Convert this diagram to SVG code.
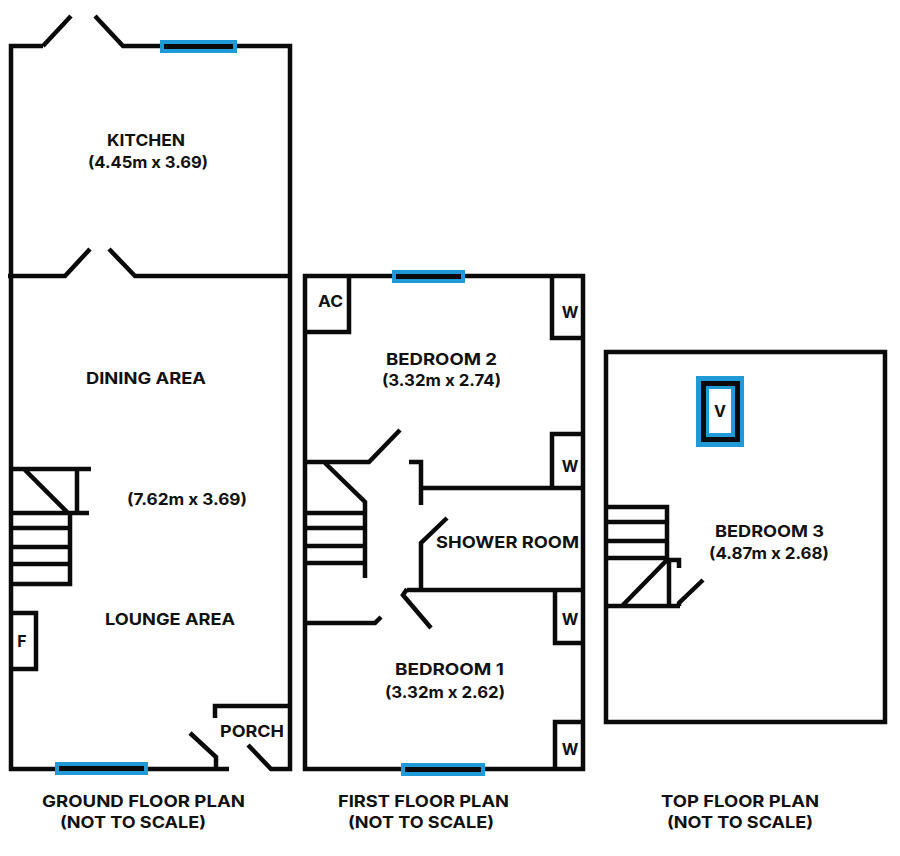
<svg xmlns="http://www.w3.org/2000/svg" width="900" height="856" viewBox="0 0 900 856">
<style>
.w{fill:none;stroke:#0a0a0a;stroke-width:4.5;stroke-linejoin:miter}
.wb{fill:#0a0a0a;stroke:#1f9ad6;stroke-width:4}
text{font-family:"Inter","Open Sans",sans-serif;font-weight:700;font-size:16px;fill:#111;text-anchor:middle}
</style>
<rect width="900" height="856" fill="#fff"/>
<g id="connectors">
<path class="w" d="M43 46H11V276M43 46L71 16M95 16L123 46H290V769H271L248 745"/>
<path class="w" d="M8 276H65L90 249M109 249L135 276H290"/>
<path class="w" d="M11 276V769H229"/>
<path class="w" d="M190 733L216 757V769"/>
<path class="w" d="M215 718V706H290"/>
<path class="w" d="M11 469H91M77 469V513M11 513H89M25 470L68 513M70 513V584H11M11 528H70M11 547H70M11 564H70"/>
<path class="w" d="M11 613H36V669H11"/>
<path class="w" d="M305 276H583V769H305Z"/>
<path class="w" d="M305 332H349V276"/>
<path class="w" d="M552 276V338H583"/>
<path class="w" d="M583 434H552V488"/>
<path class="w" d="M409 462H421V505M421 488H583"/>
<path class="w" d="M305 462H369L400 430"/>
<path class="w" d="M325 463L365 502V578M305 513H365M305 528H365M305 546H365M305 563H365"/>
<path class="w" d="M447 518L421 543V590M407 590H583M555 590V643H583"/>
<path class="w" d="M407 589L403 595L431 628"/>
<path class="w" d="M305 623H375L381 617"/>
<path class="w" d="M583 722H555V769"/>
<path class="w" d="M606 352H885V722H606Z"/>
<path class="w" d="M606 507H667V561M606 522H667M606 541H667M606 558H667"/>
<path class="w" d="M606 606H680M622 606L667 560H679V568M669 560V606M679 606V603L703 580"/>
</g>
<g id="window-kitchen"><rect class="wb" x="162" y="42" width="73" height="9"/></g>
<g id="window-lounge"><rect class="wb" x="57" y="764" width="89" height="9"/></g>
<g id="window-bed2"><rect class="wb" x="394" y="272" width="69" height="9"/></g>
<g id="window-bed1"><rect class="wb" x="403" y="765" width="80" height="9"/></g>
<g id="velux">
<rect x="696" y="376" width="48" height="71" fill="#1f9ad6"/>
<rect x="703.500" y="383.500" width="34" height="56" fill="none" stroke="#0a0a0a" stroke-width="5"/>
<rect x="709" y="389" width="22" height="44" fill="#fff"/>
<text x="720" y="417">V</text>
</g>
<g id="kitchen"><text x="146" y="146" textLength="78" lengthAdjust="spacingAndGlyphs">KITCHEN</text><text x="148" y="168" textLength="120" lengthAdjust="spacingAndGlyphs">(4.45m x 3.69)</text></g>
<g id="dining"><text x="146" y="384" textLength="120" lengthAdjust="spacingAndGlyphs">DINING AREA</text></g>
<g id="dim"><text x="187" y="505" textLength="120" lengthAdjust="spacingAndGlyphs">(7.62m x 3.69)</text></g>
<g id="lounge"><text x="170" y="625" textLength="130" lengthAdjust="spacingAndGlyphs">LOUNGE AREA</text></g>
<g id="fridge"><text x="22" y="647">F</text></g>
<g id="porch"><text x="252" y="737" textLength="64" lengthAdjust="spacingAndGlyphs">PORCH</text></g>
<g id="ac"><text x="330.500" y="307" textLength="25" lengthAdjust="spacingAndGlyphs">AC</text></g>
<g id="w1"><text x="570" y="318">W</text></g>
<g id="w2"><text x="570" y="472">W</text></g>
<g id="w3"><text x="570" y="625">W</text></g>
<g id="w4"><text x="570" y="755">W</text></g>
<g id="bedroom2"><text x="441.500" y="365" textLength="111" lengthAdjust="spacingAndGlyphs">BEDROOM 2</text><text x="441.500" y="386" textLength="119" lengthAdjust="spacingAndGlyphs">(3.32m x 2.74)</text></g>
<g id="shower"><text x="507.500" y="548" textLength="143" lengthAdjust="spacingAndGlyphs">SHOWER ROOM</text></g>
<g id="bedroom1"><text x="449.500" y="675" textLength="109" lengthAdjust="spacingAndGlyphs">BEDROOM 1</text><text x="445" y="698" textLength="120" lengthAdjust="spacingAndGlyphs">(3.32m x 2.62)</text></g>
<g id="bedroom3"><text x="769.500" y="537" textLength="109" lengthAdjust="spacingAndGlyphs">BEDROOM 3</text><text x="769" y="559" textLength="120" lengthAdjust="spacingAndGlyphs">(4.87m x 2.68)</text></g>
<g id="ground-title"><text x="143.500" y="807" textLength="203" lengthAdjust="spacingAndGlyphs">GROUND FLOOR PLAN</text><text x="133" y="828" textLength="146" lengthAdjust="spacingAndGlyphs">(NOT TO SCALE)</text></g>
<g id="first-title"><text x="423.500" y="807" textLength="171" lengthAdjust="spacingAndGlyphs">FIRST FLOOR PLAN</text><text x="421" y="828" textLength="146" lengthAdjust="spacingAndGlyphs">(NOT TO SCALE)</text></g>
<g id="top-title"><text x="740" y="807" textLength="158" lengthAdjust="spacingAndGlyphs">TOP FLOOR PLAN</text><text x="740" y="828" textLength="146" lengthAdjust="spacingAndGlyphs">(NOT TO SCALE)</text></g>
</svg>
